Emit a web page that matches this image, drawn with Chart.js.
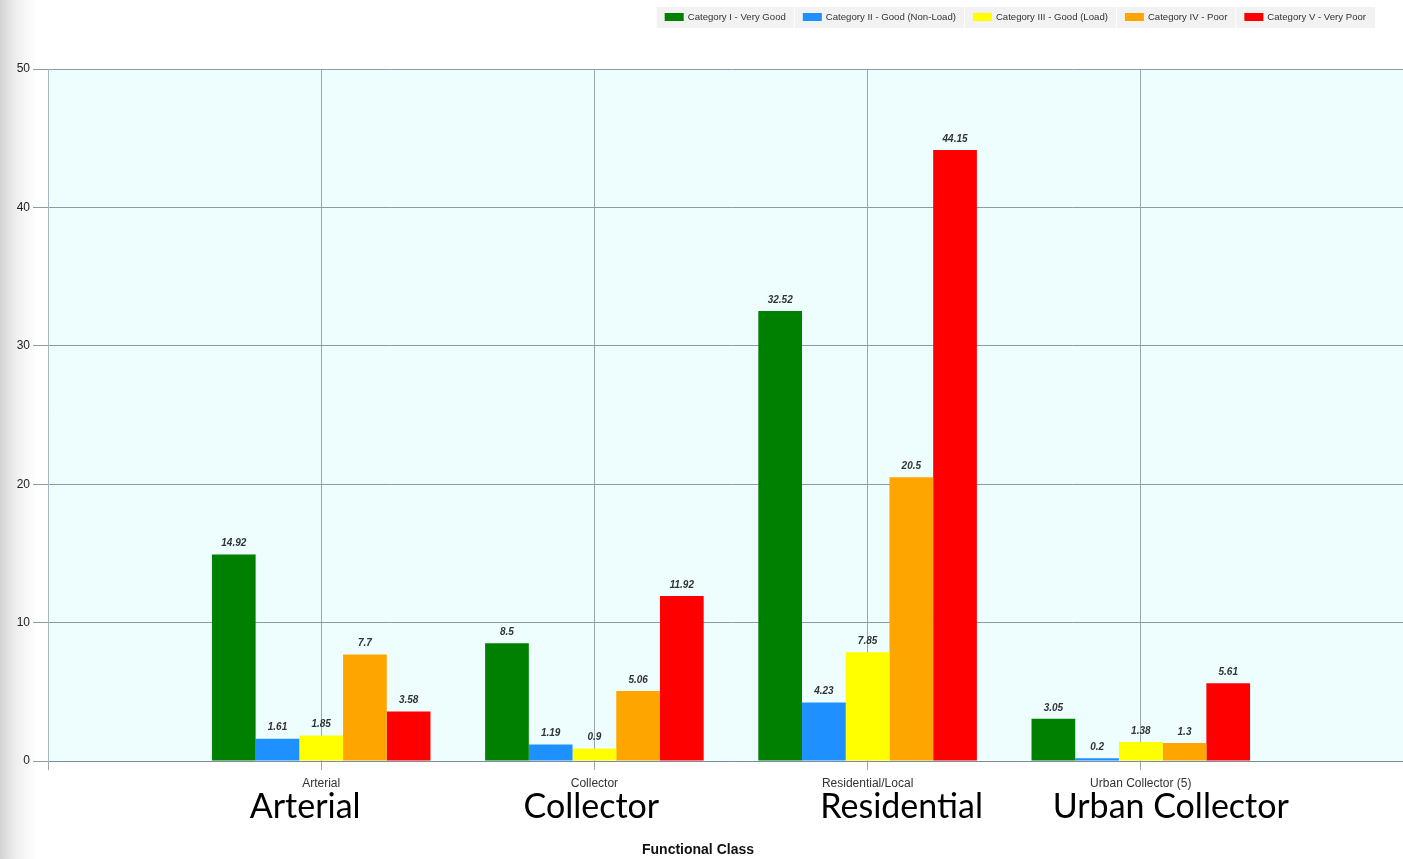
<!DOCTYPE html>
<html>
<head>
<meta charset="utf-8">
<script src="https://cdn.jsdelivr.net/npm/chart.js@4.4.1/dist/chart.umd.min.js"></script>
<style>
  html, body { margin: 0; padding: 0; overflow: hidden; width: 1403px; height: 859px; }
  body { background: linear-gradient(to right, #d3d3d3 0px, #e2e2e2 8px, #eeeeee 16px, #f7f7f7 26px, #ffffff 36px); }
  #wrap { position: absolute; left: 0; top: 0; width: 1420px; height: 859px; }
</style>
</head>
<body>
<div id="wrap"><canvas id="chart1"></canvas></div>
<script>
// categories (first and last slot are empty, as in the original axis)
var categories = ['', 'Arterial', 'Collector', 'Residential/Local', 'Urban Collector (5)', ''];
var seriesNames = ['Category I - Very Good', 'Category II - Good (Non-Load)', 'Category III - Good (Load)', 'Category IV - Poor', 'Category V - Very Poor'];
var seriesColors = ['#008000', '#1e90ff', '#ffff00', '#ffa500', '#ff0000'];

var veryGood  = [null, 14.92, 8.5, 32.52, 3.05, null];
var goodNonLoad = [null, 1.61, 1.19, 4.23, 0.2, null];
var goodLoad  = [null, 1.85, 0.9, 7.85, 1.38, null];
var poor      = [null, 7.7, 5.06, 20.5, 1.3, null];
var veryPoor  = [null, 3.58, 11.92, 44.15, 5.61, null];

var yTicks = [0, 10, 20, 30, 40, 50];
var bigLabels = ['Arterial', 'Collector', 'Residential', 'Urban Collector'];
var axisTitle = 'Functional Class';

var seriesValues = [veryGood, goodNonLoad, goodLoad, poor, veryPoor];

// plot background + legend box + value labels + overlay text
var decorPlugin = {
    id: 'decor',
    beforeDraw: function(chart) {
        var a = chart.chartArea, c = chart.ctx;
        c.save();
        c.fillStyle = '#eefeff';
        c.fillRect(a.left, a.top, a.right - a.left, a.bottom - a.top);
        c.restore();
    },
    afterDatasetsDraw: function(chart) {
        var c = chart.ctx;
        c.save();
        c.font = 'italic bold 10px "Liberation Sans", Arial, sans-serif';
        c.fillStyle = '#333333';
        c.textAlign = 'center';
        c.textBaseline = 'bottom';
        chart.data.datasets.forEach(function(ds, i) {
            var meta = chart.getDatasetMeta(i);
            meta.data.forEach(function(el, j) {
                var v = ds.data[j];
                if (v === null) return;
                c.fillText(String(v), el.x, el.y - 6);
            });
        });
        c.restore();
    },
    afterDraw: function(chart) {
        var c = chart.ctx;
        var xs = chart.scales.x;
        c.save();
        // legend
        c.font = '9.6px "Liberation Sans", Arial, sans-serif';
        var widths = seriesNames.map(function(n) { return 8 + 19 + 5 + c.measureText(n).width + 8; });
        var total = widths.reduce(function(s, w) { return s + w; }, 0);
        var x = 1375 - total;
        c.fillStyle = '#f2f2f2';
        c.fillRect(x, 7, total, 21);
        seriesNames.forEach(function(n, i) {
            if (i > 0) {
                c.fillStyle = '#ffffff';
                c.fillRect(x - 1, 7, 1, 21);
            }
            c.fillStyle = seriesColors[i];
            c.fillRect(x + 8, 13, 19, 8);
            c.fillStyle = '#333333';
            c.textAlign = 'left';
            c.textBaseline = 'middle';
            c.fillText(n, x + 31, 17.5);
            x += widths[i];
        });
        // big overlay labels
        var dx = [-16, -3, 34, 30];
        c.font = '34px Lato, "Open Sans", sans-serif';
        c.fillStyle = '#000000';
        c.textAlign = 'center';
        c.textBaseline = 'alphabetic';
        bigLabels.forEach(function(t, i) {
            c.fillText(t, xs.getPixelForValue(i + 1) + dx[i], 818);
        });
        // axis title
        c.font = 'bold 14px "Liberation Sans", Arial, sans-serif';
        c.textBaseline = 'middle';
        c.fillStyle = '#111111';
        c.fillText(axisTitle, 698, 850);
        c.restore();
    }
};

var ctx = document.getElementById('chart1').getContext('2d');
var myChart = new Chart(ctx, {
    type: 'bar',
    data: {
        labels: categories,
        datasets: seriesNames.map(function(n, i) {
            return {
                label: n,
                data: seriesValues[i],
                backgroundColor: seriesColors[i],
                borderWidth: 0,
                barPercentage: 1.0,
                categoryPercentage: 0.8
            };
        })
    },
    options: {
        responsive: true,
        maintainAspectRatio: false,
        animation: false,
        layout: { padding: { top: 69, right: 6, bottom: 0, left: 0 } },
        plugins: {
            legend: { display: false },
            tooltip: { enabled: false }
        },
        scales: {
            x: {
                offset: false,
                grid: { offset: false, color: '#9aa6b2', lineWidth: 1, tickLength: 9, drawTicks: true },
                border: { color: '#7f8c99' },
                ticks: {
                    color: '#333333',
                    padding: 6,
                    maxRotation: 0,
                    autoSkip: false,
                    font: { family: '"Liberation Sans", Arial, sans-serif', size: 12 }
                },
                afterFit: function(s) { s.height = 98; }
            },
            y: {
                min: 0,
                max: 50,
                afterBuildTicks: function(s) { s.ticks = yTicks.map(function(v) { return { value: v }; }); },
                grid: { color: '#8d9aa7', lineWidth: 1, tickLength: 15 },
                border: { color: '#a9b6c2' },
                ticks: {
                    color: '#222222',
                    padding: 3,
                    font: { family: '"Liberation Sans", Arial, sans-serif', size: 12 }
                },
                afterFit: function(s) { s.width = 48; }
            }
        }
    },
    plugins: [decorPlugin]
});
</script>
</body>
</html>
